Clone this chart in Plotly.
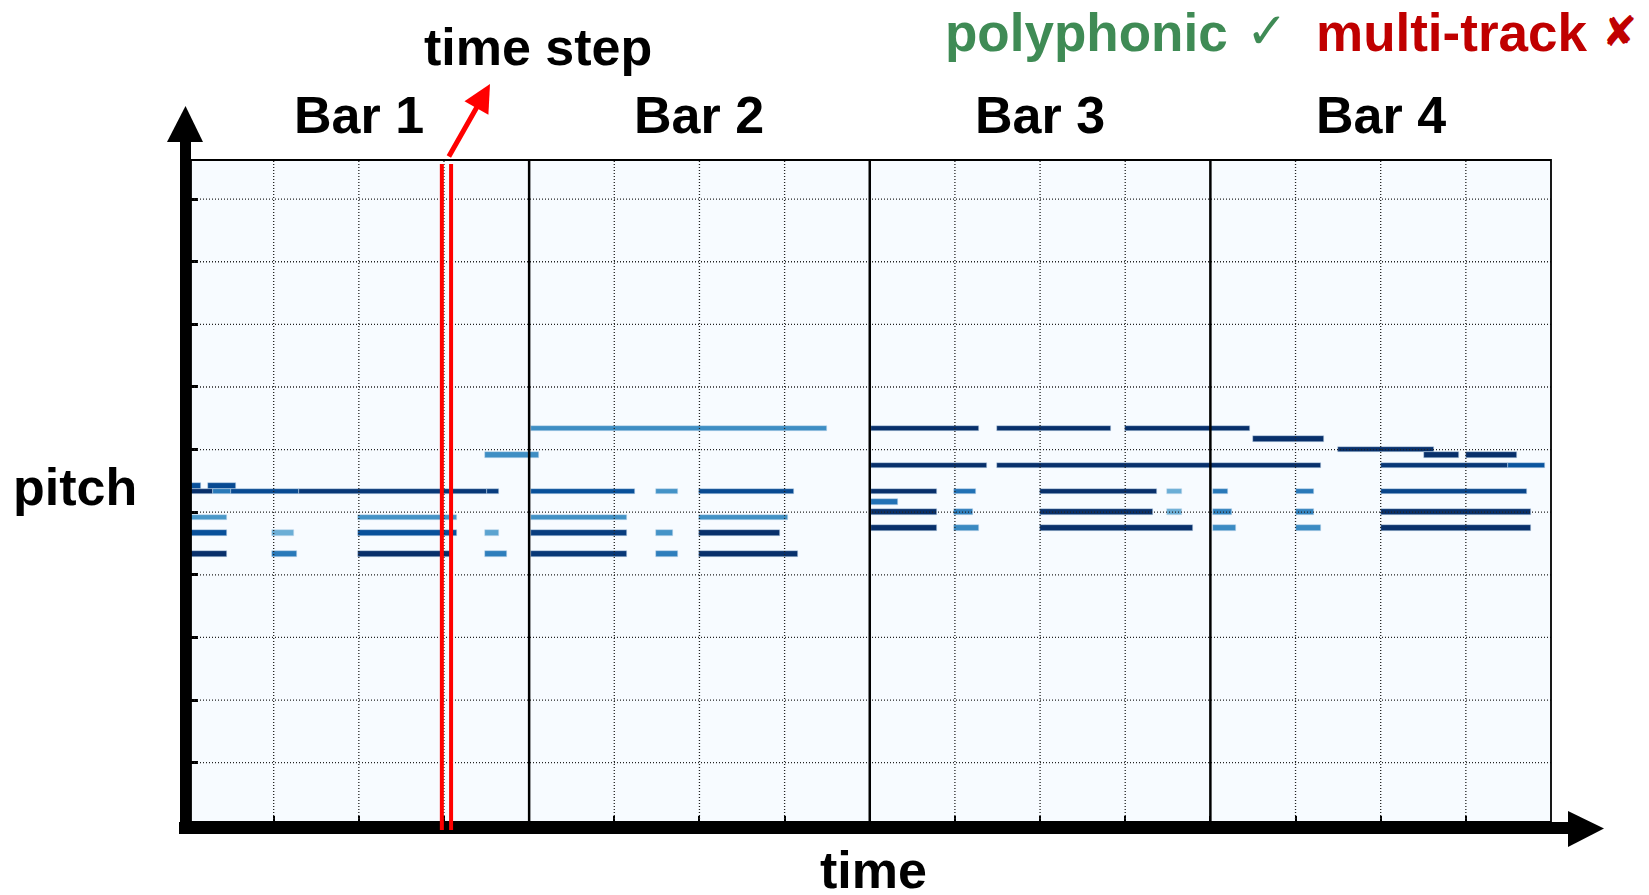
import plotly.graph_objects as go
import plotly.colors as pc

# ---------------- data ----------------
# time in time steps (24 per beat, 96 per bar), pitch in MIDI numbers,
# velocity normalised to 0..1 (mapped through the Blues colormap)
note_pitch = [
    # bar 1
    65, 65,
    64, 64, 64, 64, 64,
    59, 59,
    56, 56, 56, 56,
    52, 52, 52, 52,
    71,
    # bar 2
    76,
    64, 64, 64,
    59, 59,
    56, 56, 56,
    52, 52, 52,
    # bar 3
    76, 76, 76,
    69, 69,
    64, 64, 64, 64,
    62,
    60, 60, 60, 60,
    57, 57, 57,
    # bar 4
    74, 72, 71, 71,
    69, 69,
    64, 64, 64,
    60, 60, 60,
    57, 57, 57,
]
note_start = [
    0, 5.5,
    0, 7, 12, 31, 84,
    0, 47.8,
    0, 23.6, 47.8, 83.6,
    0, 23.6, 47.8, 83.6,
    83.6,
    96.5,
    96.5, 131.8, 143.9,
    96.5, 143.9,
    96.5, 131.8, 143.9,
    96.5, 131.8, 143.9,
    192.4, 227.9, 263.9,
    192.4, 227.9,
    192.4, 215.7, 239.9, 275.7,
    192.4,
    192.4, 215.7, 239.9, 275.7,
    192.4, 215.7, 239.9,
    300, 324, 348.2, 360,
    336.1, 372,
    288.7, 312.1, 336.1,
    288.7, 312.1, 336.1,
    288.7, 312.1, 336.1,
]
note_end = [
    3.6, 13.4,
    7, 12, 31, 84, 87.5,
    10.9, 75.7,
    10.9, 29.8, 75.7, 87.5,
    10.9, 30.6, 74.3, 89.8,
    98.8,
    180,
    125.9, 138, 170.7,
    123.6, 169,
    123.6, 136.6, 166.7,
    123.6, 138, 171.8,
    222.8, 260, 299.2,
    225, 319.1,
    211, 221.9, 272.9, 279.9,
    200,
    211, 221.1, 271.8, 279.9,
    211, 222.8, 283.1,
    320, 351, 358.1, 374.4,
    372, 382.3,
    293, 317.2, 377.2,
    294.1, 317.2, 378.4,
    295.2, 319.1, 378.4,
]
note_velocity = [
    0.88, 0.9,
    1.0, 0.72, 0.9, 0.97, 0.95,
    0.6, 0.62,
    0.88, 0.5, 0.88, 0.55,
    1.0, 0.72, 1.0, 0.7,
    0.64,
    0.64,
    0.88, 0.62, 0.9,
    0.63, 0.63,
    0.95, 0.62, 1.0,
    0.97, 0.7, 1.0,
    1.0, 1.0, 1.0,
    1.0, 1.0,
    1.0, 0.75, 1.0, 0.5,
    0.75,
    1.0, 0.7, 1.0, 0.5,
    1.0, 0.66, 1.0,
    1.0, 1.0, 1.0, 1.0,
    0.97, 0.86,
    0.72, 0.72, 0.92,
    0.68, 0.68, 1.0,
    0.65, 0.65, 1.0,
]

bar_labels = ["Bar 1", "Bar 2", "Bar 3", "Bar 4"]
steps_per_beat = 24
beats_per_bar = 4
n_bars = 4
pitch_ticks = [12, 24, 36, 48, 60, 72, 84, 96, 108, 120]
highlight_step_edges = [71.4, 74.0]

# ---------------- layout helpers ----------------
W, H = 1649, 895
L, R, T, B = 191, 98, 160, 73
PW, PH = W - L - R, H - T - B


def xp(px):
    return (px - L) / PW


def yp(py):
    return (H - B - py) / PH


steps_per_bar = steps_per_beat * beats_per_bar
total_steps = steps_per_bar * n_bars
beat_positions = [i * steps_per_beat for i in range(1, n_bars * beats_per_bar)]
bar_positions = [i * steps_per_bar for i in range(1, n_bars)]
bar_centers = [(i + 0.5) * steps_per_bar for i in range(n_bars)]

durations = [e - s for s, e in zip(note_start, note_end)]

fig = go.Figure()
fig.add_trace(go.Bar(
    orientation="h",
    y=note_pitch,
    x=durations,
    base=note_start,
    width=1.05,
    marker=dict(
        color=note_velocity,
        colorscale=pc.sequential.Blues,
        cmin=0, cmax=1,
        line=dict(width=0.6, color="rgba(198,219,239,0.8)"),
    ),
    hoverinfo="skip",
    showlegend=False,
))

shapes = []
dot = "1px,2px"
# dotted grid (above notes)
for b in beat_positions:
    if b in bar_positions:
        continue
    shapes.append(dict(type="line", xref="x", yref="paper", x0=b, x1=b, y0=0, y1=1,
                       line=dict(color="#222", width=1.3, dash=dot), layer="above"))
for p in pitch_ticks:
    shapes.append(dict(type="line", xref="paper", yref="y", x0=0, x1=1, y0=p, y1=p,
                       line=dict(color="#222", width=1.3, dash=dot), layer="above"))
# bar lines
for b in bar_positions:
    shapes.append(dict(type="line", xref="x", yref="paper", x0=b, x1=b, y0=0, y1=1,
                       line=dict(color="black", width=2.5), layer="above"))
# frame
shapes.append(dict(type="rect", xref="paper", yref="paper", x0=0, x1=1, y0=0, y1=1,
                   line=dict(color="black", width=1.8), layer="above"))
# thick axes with arrow heads
shapes.append(dict(type="rect", xref="paper", yref="paper",
                   x0=xp(180), x1=xp(191), y0=yp(834), y1=yp(141),
                   fillcolor="black", line=dict(width=0), layer="above"))
shapes.append(dict(type="path", xref="paper", yref="paper",
                   path=f"M{xp(167)},{yp(142)} L{xp(203)},{yp(142)} L{xp(185.5)},{yp(106)} Z",
                   fillcolor="black", line=dict(width=0), layer="above"))
shapes.append(dict(type="rect", xref="paper", yref="paper",
                   x0=xp(179), x1=xp(1569), y0=yp(834), y1=yp(822),
                   fillcolor="black", line=dict(width=0), layer="above"))
shapes.append(dict(type="path", xref="paper", yref="paper",
                   path=f"M{xp(1568)},{yp(811)} L{xp(1568)},{yp(847)} L{xp(1604)},{yp(828.5)} Z",
                   fillcolor="black", line=dict(width=0), layer="above"))
# highlighted time step
for e in highlight_step_edges:
    shapes.append(dict(type="line", xref="x", yref="paper", x0=e, x1=e,
                       y0=yp(830), y1=yp(164),
                       line=dict(color="#ff0000", width=4), layer="above"))

font_main = "Liberation Sans, Arial, Helvetica, sans-serif"
annotations = []
for lab, c in zip(bar_labels, bar_centers):
    annotations.append(dict(x=c, y=yp(115), xref="x", yref="paper", text=lab,
                            showarrow=False, xanchor="center", yanchor="middle",
                            font=dict(family=font_main, size=52, color="black", weight="bold")))
annotations += [
    dict(x=xp(538), y=yp(46.5), xref="paper", yref="paper", text="time step",
         showarrow=False, xanchor="center", yanchor="middle",
         font=dict(family=font_main, size=52, color="black", weight="bold")),
    dict(x=xp(75), y=yp(487), xref="paper", yref="paper", text="pitch",
         showarrow=False, xanchor="center", yanchor="middle",
         font=dict(family=font_main, size=52, color="black", weight="bold")),
    dict(x=xp(873), y=yp(870), xref="paper", yref="paper", text="time",
         showarrow=False, xanchor="center", yanchor="middle",
         font=dict(family=font_main, size=52, color="black", weight="bold")),
    dict(x=xp(943), y=yp(32), xref="paper", yref="paper", text="polyphonic",
         showarrow=False, xanchor="left", yanchor="middle",
         font=dict(family=font_main, size=53, color="#3f8b55", weight="bold")),
    dict(x=xp(1267), y=yp(31), xref="paper", yref="paper", text="✓",
         showarrow=False, xanchor="center", yanchor="middle",
         font=dict(family="DejaVu Sans", size=50, color="#3f8b55")),
    dict(x=xp(1314), y=yp(32), xref="paper", yref="paper", text="multi-track",
         showarrow=False, xanchor="left", yanchor="middle",
         font=dict(family=font_main, size=53, color="#c00000", weight="bold")),
    dict(x=xp(1619), y=yp(31), xref="paper", yref="paper", text="✘",
         showarrow=False, xanchor="center", yanchor="middle",
         font=dict(family="DejaVu Sans", size=42, color="#c00000")),
    # red arrow pointing to the label "time step"
    dict(x=xp(490), y=yp(84), xref="paper", yref="paper", text="",
         showarrow=True, ax=-42, ay=74, axref="pixel", ayref="pixel",
         arrowhead=2, arrowsize=1.1, arrowwidth=5, arrowcolor="#ff0000",
         standoff=0, startstandoff=0),
]

fig.update_layout(
    width=W, height=H, autosize=False,
    margin=dict(l=L, r=R, t=T, b=B, pad=0),
    paper_bgcolor="white",
    plot_bgcolor="rgb(247,251,255)",
    shapes=shapes,
    annotations=annotations,
    showlegend=False,
    bargap=0,
    xaxis=dict(range=[0.7, total_steps], showgrid=False, zeroline=False,
               tickvals=beat_positions, ticks="inside", ticklen=6, tickwidth=2,
               tickcolor="black", showticklabels=False, layer="above traces",
               showline=False, fixedrange=True),
    yaxis=dict(range=[0.63, 127.5], showgrid=False, zeroline=False,
               tickvals=pitch_ticks, ticks="inside", ticklen=7, tickwidth=2.5,
               tickcolor="black", showticklabels=False, layer="above traces",
               showline=False, fixedrange=True),
)

fig.write_html(
    "out.html",
    config={"displayModeBar": False},
    post_script="document.body.style.margin='0';document.body.style.padding='0';"
                "document.body.style.overflow='hidden';",
)
